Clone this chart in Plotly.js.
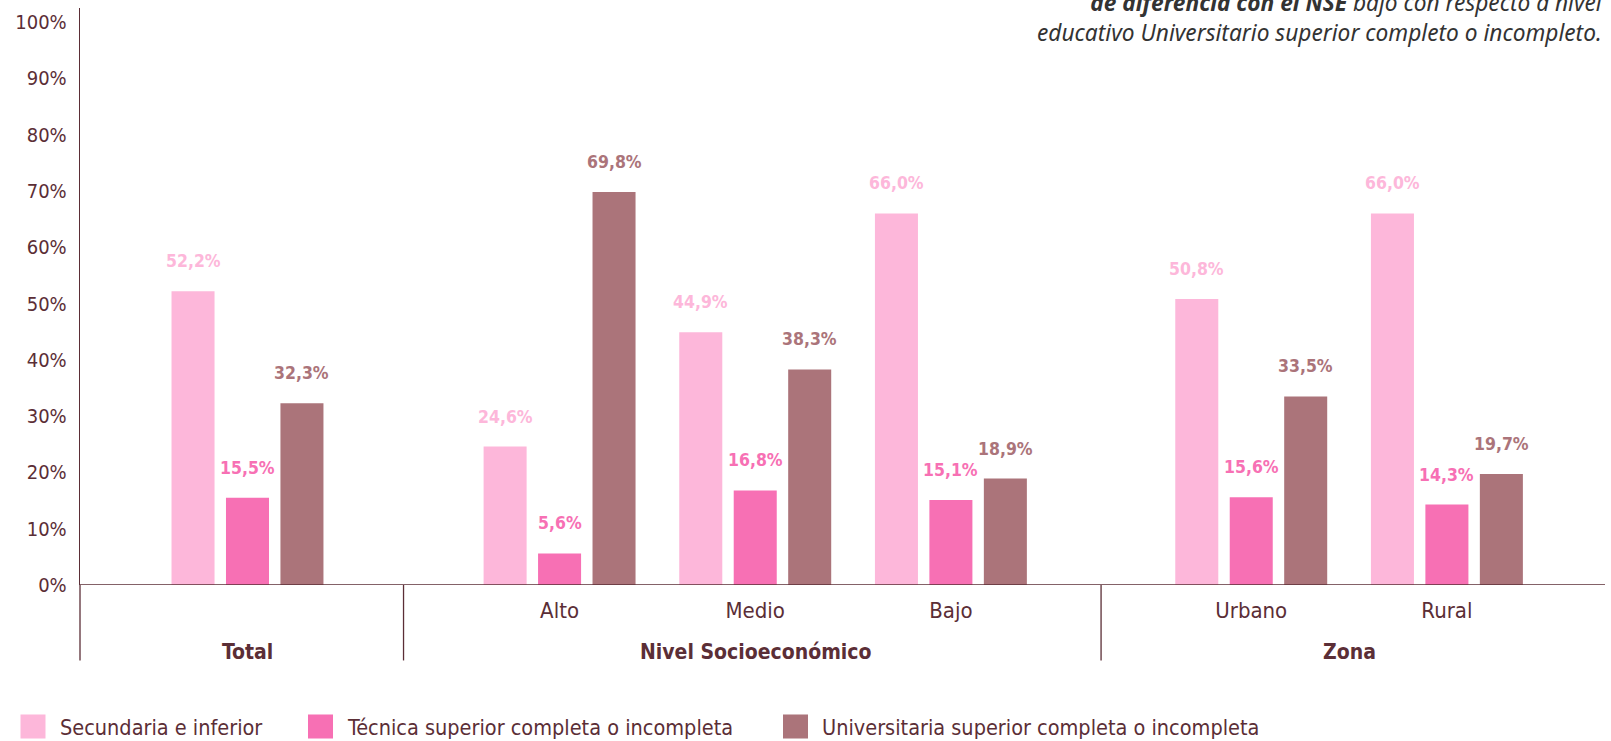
<!DOCTYPE html>
<html>
<head>
<meta charset="utf-8">
<script src="https://cdn.plot.ly/plotly-3.0.1.min.js"></script>
<style>
  html, body { margin: 0; padding: 0; background: #ffffff; }
  #chart { width: 1611px; height: 741px; }
</style>
</head>
<body>
<div id="chart"></div>
<script>
// ---------- DATA ----------
const groupNames = ["Total", "Nivel Socioeconómico", "Zona"];
const groupCategories = [[""], ["Alto", "Medio", "Bajo"], ["Urbano", "Rural"]];
const seriesNames = [
  "Secundaria e inferior",
  "Técnica superior completa o incompleta",
  "Universitaria superior completa o incompleta"
];
const secundaria    = [52.2, 24.6, 44.9, 66.0, 50.8, 66.0];
const tecnica       = [15.5,  5.6, 16.8, 15.1, 15.6, 14.3];
const universitaria = [32.3, 69.8, 38.3, 18.9, 33.5, 19.7];
const yTickValues = [0, 10, 20, 30, 40, 50, 60, 70, 80, 90, 100];
const yTickLabels = ["0%", "10%", "20%", "30%", "40%", "50%", "60%", "70%", "80%", "90%", "100%"];
const noteLine1Bold = "de diferencia con el NSE";
const noteLine1Rest = " bajo con respecto a nivel";
const noteLine2 = "educativo Universitario superior completo o incompleto.";

// ---------- STYLE ----------
const colors = ["#FDB7DA", "#F770B4", "#AB747A"];
const textDark = "#5B2E36";
const FONT = "'DejaVu Sans Condensed', 'Liberation Sans Narrow', 'Roboto', sans-serif";
const GROUP_GAPS = [0, 0.595, 0.535];   // extra space before each group (category units)
const BARGAP = 0.165, BARGROUPGAP = 0.21;

// category positions (layout only)
const positions = [];
const tickText = [];
const groupCenters = [];
const groupBounds = [];
let pos = 0;
groupCategories.forEach((cats, g) => {
  pos += GROUP_GAPS[g];
  const start = pos;
  cats.forEach(c => { positions.push(pos); tickText.push(c); pos += 1; });
  groupCenters.push((start + pos - 1) / 2);
  groupBounds.push([start, pos - 1]);
});
const dividers = [];
for (let g = 0; g < groupBounds.length - 1; g++) {
  dividers.push((groupBounds[g][1] + groupBounds[g + 1][0]) / 2);
}

const seriesValues = [secundaria, tecnica, universitaria];
const traces = seriesValues.map((vals, i) => ({
  type: "bar",
  name: seriesNames[i],
  x: positions,
  y: vals,
  marker: { color: colors[i] },
  showlegend: false,
  hoverinfo: "skip"
}));

const plotTopPx = 8, plotBottomPx = 584.6, H = 741;
const plotH = plotBottomPx - plotTopPx;
const pyFromPx = px => (plotBottomPx - px) / plotH;
const plotLeftPx = 80, plotRightPx = 1605;
const plotW = plotRightPx - plotLeftPx;
const pxFromPx = px => (px - plotLeftPx) / plotW;

const shapes = [];
// left axis extension and group dividers
shapes.push({ type: "line", xref: "paper", yref: "paper", x0: 0, x1: 0, y0: 0, y1: pyFromPx(660),
  line: { color: textDark, width: 1.3 } });
dividers.forEach(d => shapes.push({ type: "line", xref: "x", yref: "paper", x0: d, x1: d, y0: 0, y1: pyFromPx(660),
  line: { color: textDark, width: 1.3 } }));
shapes.push({ type: "line", xref: "paper", yref: "y", x0: 0, x1: 1, y0: 0, y1: 0,
  line: { color: textDark, width: 1.3 } });

const annotations = [];
// value labels above bars
const slot = (1 - BARGAP) / seriesValues.length;
seriesValues.forEach((vals, i) => {
  vals.forEach((v, j) => annotations.push({
    xref: "x", yref: "y", x: positions[j] + (i - (seriesValues.length - 1) / 2) * slot, y: v,
    text: "<b>" + v.toFixed(1).replace(".", ",") + "%</b>",
    showarrow: false, xanchor: "center", yanchor: "middle", yshift: 30,
    font: { family: FONT, size: 17.5, color: colors[i] }
  }));
});

groupNames.forEach((gname, g) => annotations.push({
  xref: "x", yref: "paper", x: groupCenters[g], y: pyFromPx(652),
  text: "<b>" + gname + "</b>", showarrow: false, xanchor: "center", yanchor: "middle",
  font: { family: FONT, size: 21, color: textDark }
}));

// legend (custom, large squares)
const legendX = [20.5, 308, 783];
seriesNames.forEach((n, i) => {
  shapes.push({ type: "rect", xref: "paper", yref: "paper",
    x0: pxFromPx(legendX[i]), x1: pxFromPx(legendX[i] + 25),
    y0: pyFromPx(714), y1: pyFromPx(738),
    fillcolor: colors[i], line: { width: 0 } });
  annotations.push({ xref: "paper", yref: "paper", x: pxFromPx(legendX[i] + 37), y: pyFromPx(727),
    text: n, showarrow: false, xanchor: "left", yanchor: "middle",
    font: { family: FONT, size: 21.5, color: textDark } });
});

// top-right note (partially cut by the page top, as in the source)
annotations.push({
  xref: "paper", yref: "paper", x: 1, y: pyFromPx(17), xanchor: "right", yanchor: "middle",
  align: "right", showarrow: false,
  text: "<b>" + noteLine1Bold + "</b>" + noteLine1Rest + "<br>" + noteLine2,
  font: { family: "'Noto Sans', 'DejaVu Sans', sans-serif", size: 22.7, color: "#333333", style: "italic" }
});

const layout = {
  width: 1611, height: 741,
  margin: { l: plotLeftPx, r: 1611 - plotRightPx, t: plotTopPx, b: H - plotBottomPx },
  paper_bgcolor: "#ffffff", plot_bgcolor: "#ffffff",
  barmode: "group",
  bargap: BARGAP,
  bargroupgap: BARGROUPGAP,
  showlegend: false,
  xaxis: {
    range: [-0.856, 6.938],
    tickvals: positions, ticktext: tickText,
    showgrid: false, zeroline: false,
    showline: false, ticks: "",
    tickfont: { family: FONT, size: 22, color: textDark },
    ticklabelstandoff: 10
  },
  yaxis: {
    range: [0, 102.5],
    tickvals: yTickValues, ticktext: yTickLabels,
    showgrid: false, zeroline: false,
    showline: true, linecolor: textDark, linewidth: 1.3,
    ticks: "", ticklabelstandoff: 8,
    tickfont: { family: FONT, size: 20, color: textDark }
  },
  shapes: shapes,
  annotations: annotations
};

Plotly.newPlot("chart", traces, layout, { displayModeBar: false, staticPlot: true });
</script>
</body>
</html>
